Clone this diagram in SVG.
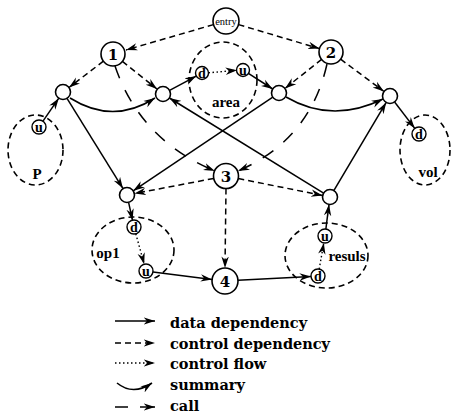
<svg xmlns="http://www.w3.org/2000/svg" width="455" height="418" viewBox="0 0 455 418">
  <style>
    .node { fill: #fff; stroke: #000; stroke-width: 1.6; }
    .port { fill: #fff; stroke: #000; stroke-width: 1.4; }
    .region { fill: none; stroke: #000; stroke-width: 1.6; stroke-dasharray: 6 4; }
    .data { fill: none; stroke: #000; stroke-width: 1.5; marker-end: url(#head); }
    .cdep { fill: none; stroke: #000; stroke-width: 1.5; stroke-dasharray: 6 4; marker-end: url(#head); }
    .flow { fill: none; stroke: #000; stroke-width: 1.4; stroke-dasharray: 1.5 2.5; marker-end: url(#head); }
    .summ { fill: none; stroke: #000; stroke-width: 1.6; marker-end: url(#head); }
    .call { fill: none; stroke: #000; stroke-width: 1.5; stroke-dasharray: 13 13; marker-end: url(#head); }
    .num { font-family: "DejaVu Serif", "Liberation Serif", serif; font-weight: bold; font-size: 15px; text-anchor: middle; }
    .uv { font-family: "Liberation Serif", serif; font-weight: bold; font-size: 14px; text-anchor: middle; }
    .lbl { font-family: "Liberation Serif", serif; font-weight: bold; font-size: 15px; }
    .leg { font-family: "DejaVu Serif", "Liberation Serif", serif; font-weight: bold; font-size: 14.5px; }
  </style>
  <defs>
    <marker id="head" markerUnits="userSpaceOnUse" markerWidth="13" markerHeight="9" refX="11.5" refY="4.5" orient="auto">
      <path d="M0,0.8 L11.5,4.5 L0,8.2 L3.5,4.5 Z" fill="#000" stroke="none"/>
    </marker>
  </defs>

  <!-- procedure regions -->
  <g id="proc-P">
    <ellipse class="region" cx="35.5" cy="150" rx="27.5" ry="35"/>
    <text class="lbl" x="37" y="179" text-anchor="middle">P</text>
  </g>
  <g id="proc-area">
    <ellipse class="region" cx="223" cy="80" rx="34" ry="38"/>
    <text class="lbl" x="226" y="107" text-anchor="middle">area</text>
  </g>
  <g id="proc-vol">
    <ellipse class="region" cx="425" cy="150" rx="25" ry="35"/>
    <text class="lbl" x="428" y="177" text-anchor="middle">vol</text>
  </g>
  <g id="proc-op1">
    <ellipse class="region" cx="133" cy="250" rx="41" ry="33"/>
    <text class="lbl" x="108" y="258" text-anchor="middle">op1</text>
  </g>
  <g id="proc-resuls">
    <ellipse class="region" cx="326.5" cy="255.5" rx="41.5" ry="32.5"/>
    <text class="lbl" x="347" y="261" text-anchor="middle">resuls</text>
  </g>

  <!-- connectors -->
  <g id="edges">
    <!-- control dependency -->
    <path class="cdep" d="M213.5,24.6 L126,50"/>
    <path class="cdep" d="M238.5,24.6 L319.5,48.6"/>
    <path class="cdep" d="M103.4,61.2 L69,87.5"/>
    <path class="cdep" d="M122.4,61.4 L157,89"/>
    <path class="cdep" d="M321.6,59.4 L285,88.4"/>
    <path class="cdep" d="M340.6,59.2 L384,91.5"/>
    <path class="cdep" d="M213.7,178.4 L134.4,193.6"/>
    <path class="cdep" d="M238.3,178.5 L322.6,195.5"/>
    <path class="cdep" d="M226,188.5 L225,268"/>
    <!-- call -->
    <path class="call" d="M115,66 Q140,140 215,171"/>
    <path class="call" d="M327,64 Q310,140 238,171"/>
    <!-- data dependency -->
    <path class="data" d="M43,121.2 L58.8,98.2"/>
    <path class="data" d="M67,98.4 L123,188.6"/>
    <path class="data" d="M169.6,90.4 L196.3,76.1"/>
    <path class="data" d="M248,73.2 L272.7,89"/>
    <path class="data" d="M272.8,97.2 L133.2,190.8"/>
    <path class="data" d="M323.6,193.1 L169.4,98"/>
    <path class="data" d="M333.8,190.6 L386.2,102.4"/>
    <path class="data" d="M394.6,102 L414.8,128.4"/>
    <path class="data" d="M128.6,202.3 L132.5,220.2"/>
    <path class="data" d="M153,271.9 L212.1,279.4"/>
    <path class="data" d="M238,280.3 L311,276.4"/>
    <path class="data" d="M325.9,229 L329,204.4"/>
    <!-- control flow -->
    <path class="flow" d="M208.5,72.8 L237,70.2"/>
    <path class="flow" d="M135.8,233.8 L144.2,264.2"/>
    <path class="flow" d="M319.2,269.1 L323.8,242.9"/>
    <!-- summary -->
    <path class="summ" d="M70,98 Q113,125 155,98"/>
    <path class="summ" d="M286,97 Q332,124 383,99"/>
  </g>

  <!-- nodes -->
  <g id="entry"><circle class="node" cx="226" cy="21" r="13"/><text x="226" y="24.5" font-family="Liberation Serif, serif" font-size="10.5" text-anchor="middle">entry</text></g>
  <g id="n1"><circle class="node" cx="113" cy="54" r="12"/><text class="num" x="113" y="59.5">1</text></g>
  <g id="n2"><circle class="node" cx="331" cy="52" r="12"/><text class="num" x="331" y="57.5">2</text></g>
  <g id="n3"><circle class="node" cx="226" cy="176" r="12.5"/><text class="num" x="226" y="181.5">3</text></g>
  <g id="n4"><circle class="node" cx="225" cy="281" r="13"/><text class="num" x="225" y="286.5">4</text></g>
  <g id="callA"><circle class="node" cx="63" cy="92" r="7.5"/></g>
  <g id="callB"><circle class="node" cx="163" cy="94" r="7.5"/></g>
  <g id="callC"><circle class="node" cx="279" cy="93" r="7.5"/></g>
  <g id="callD"><circle class="node" cx="390" cy="96" r="7.5"/></g>
  <g id="callE"><circle class="node" cx="127" cy="195" r="7.5"/></g>
  <g id="callF"><circle class="node" cx="330" cy="197" r="7.5"/></g>
  <g id="P-u"><circle class="port" cx="39" cy="127" r="7"/><text class="uv" x="39" y="131.5">u</text></g>
  <g id="area-d"><circle class="port" cx="202" cy="73" r="6.5"/><text class="uv" x="202" y="78">d</text></g>
  <g id="area-u"><circle class="port" cx="243" cy="70" r="6.5"/><text class="uv" x="243" y="74.5">u</text></g>
  <g id="vol-d"><circle class="port" cx="419" cy="134" r="7"/><text class="uv" x="419" y="139">d</text></g>
  <g id="op1-d"><circle class="port" cx="134" cy="227" r="7"/><text class="uv" x="134" y="232">d</text></g>
  <g id="op1-u"><circle class="port" cx="146" cy="271" r="7"/><text class="uv" x="146" y="275.5">u</text></g>
  <g id="resuls-u"><circle class="port" cx="325" cy="236" r="7"/><text class="uv" x="325" y="240.5">u</text></g>
  <g id="resuls-d"><circle class="port" cx="318" cy="276" r="7"/><text class="uv" x="318" y="281">d</text></g>

  <!-- legend -->
  <g id="legend">
    <path class="data" d="M115,321 L155,321"/>
    <path class="cdep" d="M115,343 L155,343"/>
    <path class="flow" d="M115,363 L155,363"/>
    <path class="summ" d="M117,383 Q133,396 152,383"/>
    <path d="M115,407 L128,407" stroke="#000" stroke-width="1.5"/>
    <path class="data" d="M140,407 L155,407"/>
    <text class="leg" x="170" y="328">data dependency</text>
    <text class="leg" x="170" y="349">control dependency</text>
    <text class="leg" x="170" y="369">control flow</text>
    <text class="leg" x="170" y="390">summary</text>
    <text class="leg" x="170" y="411">call</text>
  </g>
</svg>
